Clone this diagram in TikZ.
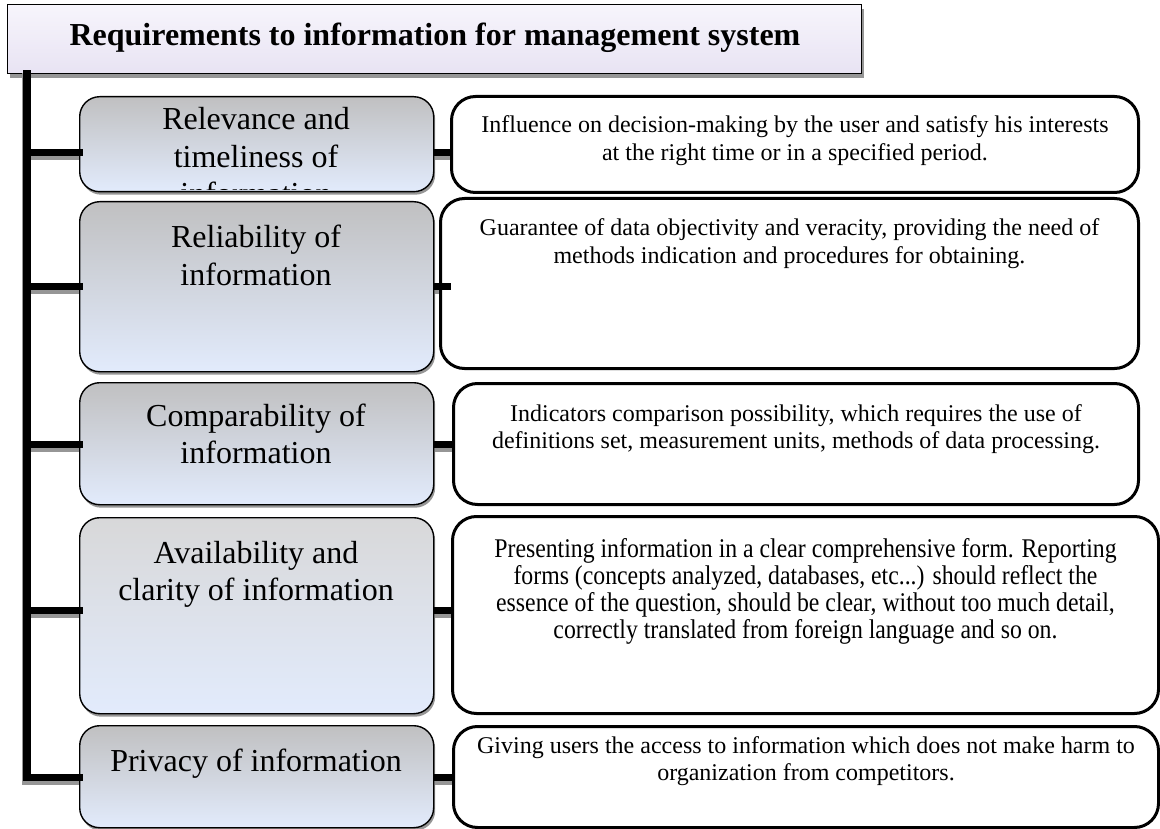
\documentclass[tikz,border=0pt]{standalone}
\usepackage{fontspec}
\setmainfont{Liberation Serif}
\newfontfamily\tnr{Liberation Serif}
\newfontfamily\condserif[FakeStretch=0.88]{Liberation Serif}
\usetikzlibrary{shadows}
\definecolor{gtop}{RGB}{192,192,193}
\definecolor{gtopl}{RGB}{216,216,217}
\definecolor{gbot}{RGB}{226,235,252}
\definecolor{ttop}{RGB}{247,245,252}
\definecolor{tbot}{RGB}{232,227,243}
\definecolor{shd}{RGB}{150,150,150}
\begin{document}
\begin{tikzpicture}[x=1pt,y=-1pt,
  titlebox/.style={draw=black, line width=1.2pt, top color=ttop, bottom color=tbot, inner sep=0,
    drop shadow={shadow xshift=2pt, shadow yshift=-4pt, fill=shd, opacity=1}},
  leftbox/.style={draw=black, line width=1.4pt, rounded corners=20pt, top color=gtop, bottom color=gbot, inner sep=0,
    drop shadow={shadow xshift=1.5pt, shadow yshift=-3pt, fill=shd, opacity=1}},
  rightbox/.style={draw=black, line width=3pt, rounded corners=24pt, fill=white, inner sep=0},
  titletext/.style={font=\tnr\fontsize{32}{38}\selectfont\bfseries, inner sep=0, anchor=base},
  ltext/.style={font=\tnr\fontsize{32}{37.5}\selectfont, align=center, inner sep=0, anchor=base},
  rtext/.style={font=\tnr\fontsize{24}{27.4}\selectfont, align=center, inner sep=0, anchor=base},
  conn/.style={line width=7pt, draw=black, line cap=rect},
  connsh/.style={line width=7pt, draw=shd, line cap=rect, transform canvas={shift={(-1.5pt,-4pt)}}},
  trunk/.style={line width=8pt, draw=black, line cap=rect},
  trunksh/.style={line width=8pt, draw=shd, line cap=rect, transform canvas={shift={(-1.5pt,-3pt)}}}
]
\useasboundingbox (0,0) rectangle (1160,829);

% junction coordinates on the trunk
\coordinate (j1) at (27,152.5);
\coordinate (j2) at (27,287);
\coordinate (j3) at (27,444.5);
\coordinate (j4) at (27,610.5);
\coordinate (j5) at (27,777);

% title
\node[titlebox, anchor=north west, minimum width=854pt, minimum height=69pt] (T) at (7,4) {};

% connector shadows, then trunk
\draw[trunksh] (T.south -| j1) -- (j5);
\foreach \j in {j1,j2,j3,j4,j5}{
  \draw[connsh] (\j) -- ++(52,0);
  \draw[connsh] (\j) ++(406,0) -- ++(18,0);
}
\draw[trunk] (T.south -| j1) -- (j5);

% left boxes
\node[leftbox, anchor=north west, minimum width=354pt, minimum height=95pt] (L1) at (79,96) {};
\node[leftbox, anchor=north west, minimum width=354pt, minimum height=170pt] (L2) at (79,201) {};
\node[leftbox, anchor=north west, minimum width=354pt, minimum height=122pt] (L3) at (79,382) {};
\node[leftbox, anchor=north west, minimum width=354pt, minimum height=196pt, top color=gtopl] (L4) at (79,517) {};
\node[leftbox, anchor=north west, minimum width=354pt, minimum height=102pt] (L5) at (79,725) {};

% right boxes
\node[rightbox, anchor=north west, minimum width=687pt, minimum height=96pt] (R1) at (450,95) {};
\node[rightbox, anchor=north west, minimum width=698pt, minimum height=170pt] (R2) at (439,197) {};
\node[rightbox, anchor=north west, minimum width=685pt, minimum height=121pt] (R3) at (452,382) {};
\node[rightbox, anchor=north west, minimum width=706pt, minimum height=197pt] (R4) at (451,515) {};
\node[rightbox, anchor=north west, minimum width=705pt, minimum height=101pt] (R5) at (452,725) {};

% connectors trunk -> left boxes
\draw[conn] (j1) -- (L1.west |- j1);
\draw[conn] (j2) -- (L2.west |- j2);
\draw[conn] (j3) -- (L3.west |- j3);
\draw[conn] (j4) -- (L4.west |- j4);
\draw[conn] (j5) -- (L5.west |- j5);

% connectors left boxes -> right boxes
\draw[conn, line cap=butt] (L1.east |- j1) -- (R1.west |- j1);
\draw[conn, line cap=butt] (L2.east |- j2) -- ([xshift=12pt]R2.west |- j2);
\draw[conn, line cap=butt] (L3.east |- j3) -- (R3.west |- j3);
\draw[conn, line cap=butt] (L4.east |- j4) -- (R4.west |- j4);
\draw[conn, line cap=butt] (L5.east |- j5) -- (R5.west |- j5);

% title text
\node[titletext] (Tt) at (435,46) {Requirements to information for management system};

% left texts (anchor = baseline of last line)
\begin{scope}
  \clip[rounded corners=19pt] (80,97) rectangle (432,190);
  \node[ltext] (L1t) at (256,205) {Relevance and\\timeliness of\\information};
\end{scope}
\node[ltext] (L2t) at (256,285.5) {Reliability of\\information};
\node[ltext] (L3t) at (256,463.5) {Comparability of\\information};
\node[ltext] (L4t) at (256,600.5) {Availability and\\clarity of information};
\node[ltext] (L5t) at (256,771) {Privacy of information};

% right texts (anchor = baseline of last line)
\node[rtext] (R1t) at (R1.north |- 0,160.4) {Influence on decision-making by the user and satisfy his interests\\at the right time or in a specified period.};
\node[rtext] (R2t) at (R2.north |- 0,263.4) {Guarantee of data objectivity and veracity, providing the need of\\methods indication and procedures for obtaining.};
\node[rtext] (R3t) at (R3.north |- 0,448.4) {Indicators comparison possibility, which requires the use of\\definitions set, measurement units, methods of data processing.};
\node[rtext, font=\condserif\fontsize{27}{27}\selectfont] (R4t) at (R4.north |- 0,638) {Presenting information in a clear comprehensive form. Reporting\\forms (concepts analyzed, databases, etc...) should reflect the\\essence of the question, should be clear, without too much detail,\\correctly translated from foreign language and so on.};
\node[rtext] (R5t) at (R5.north |- 0,780.4) {Giving users the access to information which does not make harm to\\organization from competitors.};
\end{tikzpicture}
\end{document}
